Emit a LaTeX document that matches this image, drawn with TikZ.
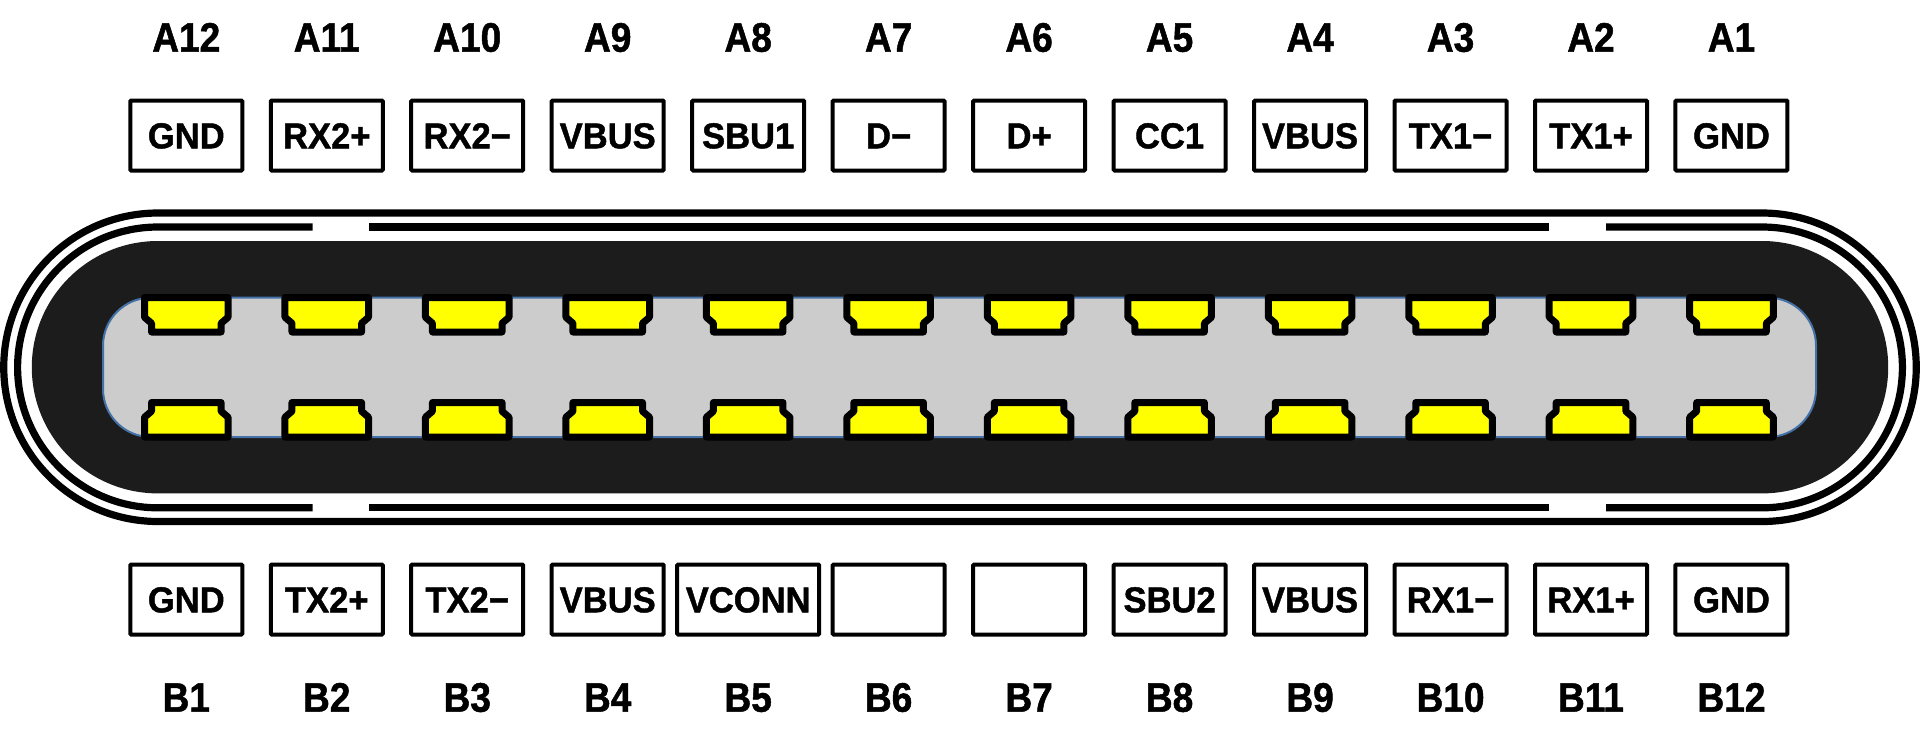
\documentclass[tikz,border=0pt]{standalone}
\usepackage{fontspec}
\setmainfont{Liberation Sans}
\newfontfamily\pinboxfont{Liberation Sans}[BoldFeatures={FakeStretch=0.96,FakeBold=1.2}]
\newfontfamily\pinnamefont{Liberation Sans}[BoldFeatures={FakeStretch=0.9,FakeBold=1.2}]
\usepackage{xcolor}

\definecolor{plugdark}{HTML}{1C1C1C}
\definecolor{tonguegray}{HTML}{CCCCCC}
\definecolor{tongueblue}{HTML}{4472A8}
\definecolor{padyellow}{HTML}{FFFF00}

\tikzset{
    pinbox/.style={draw,line width=2pt,rounded corners=0.5pt,inner sep=0pt,text height=12.8pt,text depth=0pt,
        minimum height=35pt,font=\pinboxfont\bfseries\fontsize{18}{18}\selectfont},
    pinname/.style={inner sep=0pt,anchor=base,font=\pinnamefont\bfseries\fontsize{20.6}{21}\selectfont},
    shell/.style={line width=3.6pt},
    pinpad/.style={draw=black,fill=padyellow,line width=3.5pt,line join=round}
}

\newcommand{\padoutline}{(-41.8,-69.75) -- (41.8,-69.75) -- (41.8,-50) -- (34.8,-44) -- (34.8,-35.25)
    -- (-34.8,-35.25) -- (-34.8,-44) -- (-41.8,-50) -- cycle}

\begin{document}
\begin{tikzpicture}[x=0.5pt,y=-0.5pt]
    \useasboundingbox (0,0) rectangle (1920,734);

    % Outer shell
    \draw[shell] (158,213) -- (1762,213) arc[start angle=-90,end angle=90,radius=154.25]
        -- (158,521.5) arc[start angle=90,end angle=270,radius=154.25] -- cycle;

    % Inner shell, with its gaps
    \draw[shell] (312.7,227) -- (158,227) arc[start angle=-90,end angle=-270,radius=140.4] -- (312.7,507.8);
    \draw[shell] (1606,227) -- (1762,227) arc[start angle=-90,end angle=90,radius=140.4] -- (1606,507.8);
    \draw[shell] (369,227) -- (1549.3,227);
    \draw[shell] (369,507.8) -- (1549.3,507.8);

    % Plug body
    \fill[plugdark] (158,241) -- (1762,241) arc[start angle=-90,end angle=90,radius=126.2]
        -- (158,493.4) arc[start angle=90,end angle=270,radius=126.2] -- cycle;

    % Tongue
    \draw[tongueblue,fill=tonguegray,line width=1pt,rounded corners=24pt] (103,297.7) rectangle (1816,437);

    % Pads
    \foreach \i in {0,...,11}{
        \draw[pinpad,shift={(186.3+140.47*\i,367.25)}] \padoutline;
        \draw[pinpad,shift={(186.3+140.47*\i,367.25)},yscale=-1] \padoutline;
    }

    % Row A
    \foreach \lbl/\sig [count=\i from 0] in {A12/GND,A11/RX2+,A10/RX2−,A9/VBUS,A8/SBU1,A7/D−,A6/D+,A5/CC1,A4/VBUS,A3/TX1−,A2/TX1+,A1/GND}{
        \node[pinname] (name\lbl) at (186.3+140.47*\i,51.7) {\lbl};
        \node[pinbox,minimum width=56pt] (box\lbl) at (186.3+140.47*\i,135.5) {\sig};
    }

    % Row B
    \foreach \lbl/\sig/\boxw [count=\i from 0] in {B1/GND/56pt,B2/TX2+/56pt,B3/TX2−/56pt,B4/VBUS/56pt,B5/VCONN/71pt,B6//56pt,B7//56pt,B8/SBU2/56pt,B9/VBUS/56pt,B10/RX1−/56pt,B11/RX1+/56pt,B12/GND/56pt}{
        \node[pinname] (name\lbl) at (186.3+140.47*\i,711.7) {\lbl};
        \node[pinbox,minimum width=\boxw] (box\lbl) at (186.3+140.47*\i,599.5) {\sig};
    }
\end{tikzpicture}
\end{document}
